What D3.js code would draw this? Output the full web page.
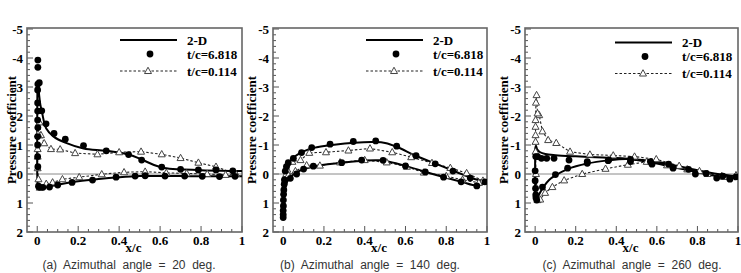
<!DOCTYPE html>
<html><head><meta charset="utf-8">
<script src="https://cdn.jsdelivr.net/npm/d3@7"></script>
<style>
html,body{margin:0;padding:0;background:#fff;}
svg{display:block;}
</style></head>
<body>
<svg id="chart" width="741" height="273"></svg>
<script>
// ---------- data (x/c, Cp) ----------
const xTicks = [0, 0.2, 0.4, 0.6, 0.8, 1];
const xTickLabels = ["0", "0.2", "0.4", "0.6", "0.8", "1"];
const yTicks = [-5, -4, -3, -2, -1, 0, 1, 2];
const legendLabels = ["2-D", "t/c=6.818", "t/c=0.114"];
const captions = ["(a)  Azimuthal  angle  =  20  deg.", "(b)  Azimuthal  angle  =  140  deg.", "(c)  Azimuthal  angle  =  260  deg."];

// Panel (a) 20 deg
const a2D = [[1.0,-0.1],[0.9,-0.11],[0.8,-0.13],[0.7,-0.16],[0.62,-0.21],[0.57,-0.31],[0.51,-0.5],[0.446,-0.67],[0.337,-0.8],[0.226,-0.88],[0.137,-1.08],[0.08,-1.29],[0.044,-1.57],[0.024,-2.1],[0.015,-2.4],[0.009,-2.75],[0.005,-3.05],[0.003,-3.2],[0.001,-2.9],[0.0,-1.5],[0.0,0.0],[0.002,0.35],[0.007,0.46],[0.02,0.47],[0.05,0.44],[0.1,0.37],[0.2,0.25],[0.3,0.17],[0.4,0.11],[0.5,0.07],[0.6,0.07],[0.7,0.07],[0.8,0.08],[0.9,0.08],[1.0,0.08]];
const aDots = [[0.003,-3.93],[0.003,-3.68],[0.003,-3.1],[0.01,-3.15],[0.002,-2.9],[0.002,-2.45],[0.002,-2.17],[0.002,-1.86],[0.003,-1.6],[0.002,-1.29],[0.002,-1.0],[0.002,-0.6],[0.003,-0.25],[0.022,-2.18],[0.043,-1.73],[0.082,-1.4],[0.137,-1.2],[0.226,-0.98],[0.337,-0.8],[0.446,-0.67],[0.51,-0.48],[0.608,-0.24],[0.7,-0.16],[0.787,-0.14],[0.873,-0.14],[0.955,-0.11],[0.006,0.42],[0.012,0.46],[0.028,0.46],[0.06,0.45],[0.1,0.38],[0.17,0.29],[0.27,0.21],[0.385,0.11],[0.478,0.07],[0.527,0.06],[0.624,0.07],[0.72,0.07],[0.806,0.08],[0.89,0.09],[0.966,0.08]];
const aTri = [[0.97,0.0],[0.873,-0.25],[0.787,-0.39],[0.7,-0.55],[0.608,-0.68],[0.507,-0.77],[0.4,-0.75],[0.294,-0.68],[0.185,-0.72],[0.112,-0.85],[0.067,-0.86],[0.034,-1.06],[0.018,-1.34],[0.011,-1.78],[0.004,-1.37],[0.002,-0.86],[0.002,-0.6],[0.002,-0.2],[0.006,0.18],[0.012,0.47],[0.044,0.34],[0.075,0.29],[0.123,0.18],[0.205,0.11],[0.315,0.01],[0.424,-0.06],[0.527,-0.08],[0.63,-0.04],[0.73,-0.02],[0.83,0.0],[0.92,0.03],[0.97,0.0]];

// Panel (b) 140 deg
const b2D = [[1.0,0.28],[0.92,0.13],[0.85,-0.07],[0.75,-0.35],[0.65,-0.63],[0.56,-0.93],[0.5,-1.07],[0.45,-1.1],[0.35,-1.08],[0.25,-1.01],[0.15,-0.9],[0.1,-0.78],[0.06,-0.62],[0.035,-0.45],[0.02,-0.3],[0.01,-0.05],[0.005,0.3],[0.002,0.8],[0.0,1.5],[0.003,1.0],[0.008,0.6],[0.015,0.35],[0.03,0.15],[0.05,0.02],[0.075,-0.09],[0.1,-0.17],[0.15,-0.26],[0.2,-0.32],[0.3,-0.4],[0.4,-0.46],[0.47,-0.47],[0.52,-0.42],[0.6,-0.28],[0.7,-0.07],[0.8,0.13],[0.88,0.28],[0.95,0.4],[1.0,0.28]];
const bDots = [[0.0,1.5],[0.0,1.4],[0.0,1.26],[0.001,1.1],[0.001,0.9],[0.002,0.7],[0.003,0.55],[0.005,0.35],[0.006,0.2],[0.01,-0.1],[0.016,-0.25],[0.025,-0.39],[0.05,-0.54],[0.09,-0.74],[0.14,-0.91],[0.23,-1.03],[0.344,-1.12],[0.454,-1.14],[0.557,-0.96],[0.652,-0.63],[0.746,-0.35],[0.833,-0.1],[0.918,0.14],[0.99,0.27],[0.035,0.15],[0.066,0.0],[0.1,-0.17],[0.148,-0.27],[0.287,-0.39],[0.385,-0.48],[0.49,-0.47],[0.6,-0.28],[0.697,-0.07],[0.787,0.11],[0.873,0.27],[0.95,0.41]];
const bTri = [[0.98,0.23],[0.9,-0.03],[0.82,-0.21],[0.73,-0.38],[0.628,-0.58],[0.535,-0.75],[0.426,-0.88],[0.32,-0.81],[0.21,-0.75],[0.128,-0.73],[0.085,-0.48],[0.045,-0.42],[0.02,-0.15],[0.015,0.0],[0.025,0.05],[0.06,-0.1],[0.115,-0.3],[0.18,-0.29],[0.279,-0.4],[0.4,-0.48],[0.508,-0.4],[0.607,-0.25],[0.69,-0.05],[0.8,0.07],[0.88,0.2],[0.96,0.3]];

// Panel (c) 260 deg
const c2D = [[1.0,0.08],[0.9,0.0],[0.8,-0.13],[0.7,-0.28],[0.6,-0.42],[0.5,-0.5],[0.4,-0.55],[0.3,-0.58],[0.2,-0.61],[0.1,-0.65],[0.05,-0.69],[0.025,-0.75],[0.01,-0.85],[0.004,-0.97],[0.001,-0.9],[0.0,-0.5],[0.0,0.3],[0.002,0.85],[0.008,0.9],[0.02,0.7],[0.044,0.42],[0.07,0.2],[0.1,0.05],[0.16,-0.17],[0.257,-0.36],[0.36,-0.47],[0.45,-0.52],[0.5,-0.48],[0.6,-0.36],[0.7,-0.21],[0.8,-0.06],[0.9,0.08],[1.0,0.1]];
const cDots = [[0.003,-0.6],[0.012,-0.6],[0.031,-0.54],[0.057,-0.54],[0.093,-0.54],[0.167,-0.48],[0.257,-0.43],[0.363,-0.49],[0.47,-0.5],[0.568,-0.43],[0.658,-0.34],[0.756,-0.16],[0.843,-0.02],[0.925,0.07],[0.99,0.1],[0.0,-0.11],[0.0,0.23],[0.002,0.5],[0.003,0.72],[0.008,0.9],[0.004,0.82],[0.036,0.45],[0.1,0.02],[0.16,-0.2],[0.257,-0.37],[0.36,-0.46],[0.47,-0.43],[0.576,-0.34],[0.68,-0.2],[0.79,0.0],[0.895,0.14],[0.96,0.18]];
const cTri = [[0.99,0.05],[0.92,0.07],[0.81,-0.1],[0.71,-0.28],[0.597,-0.51],[0.49,-0.6],[0.385,-0.64],[0.27,-0.67],[0.172,-0.77],[0.104,-1.07],[0.064,-1.17],[0.036,-1.47],[0.02,-2.03],[0.012,-2.09],[0.007,-2.72],[0.004,-2.46],[0.002,-1.86],[0.002,-1.63],[0.002,-1.34],[0.002,-1.11],[0.002,-0.77],[0.004,0.0],[0.012,0.9],[0.025,0.88],[0.049,0.65],[0.085,0.45],[0.143,0.22],[0.232,0.0],[0.347,-0.18],[0.457,-0.32],[0.55,-0.42],[0.65,-0.3],[0.75,-0.16],[0.85,0.0],[0.93,0.1],[0.99,0.05]];

// ---------- layout ----------
const panels = [
  {left: 27,  right: 242, line: a2D, dots: aDots, tri: aTri, cap: captions[0], titleX: 12,  capX: 129, legDx: 0,  legDy: 0},
  {left: 273, right: 487, line: b2D, dots: bDots, tri: bTri, cap: captions[1], titleX: 252, capX: 370, legDx: 0,  legDy: 0},
  {left: 525, right: 738, line: c2D, dots: cDots, tri: cTri, cap: captions[2], titleX: 504, capX: 632, legDx: -3, legDy: 2.5}
];
const TOP = 29, BOTTOM = 232;
const serif = "'Liberation Serif','Times New Roman',serif";
const sans = "'Liberation Sans',Arial,sans-serif";

const svg = d3.select("#chart");

function triPath(cx, cy, s) {
  const h = s * 0.9;
  return `M${cx},${cy - h*0.6}L${cx + s/2},${cy + h*0.4}L${cx - s/2},${cy + h*0.4}Z`;
}

panels.forEach(p => {
  const x = d3.scaleLinear().domain([-0.05, 1]).range([p.left, p.right]);
  const y = d3.scaleLinear().domain([-5, 2]).range([TOP, BOTTOM]);
  const g = svg.append("g");

  // minor ticks
  const xMinor = d3.range(0, 1.0001, 0.05);
  const yMinor = d3.range(-5, 2.0001, 0.2);
  g.selectAll(".xm").data(xMinor).join("line")
    .attr("x1", d => x(d)).attr("x2", d => x(d))
    .attr("y1", BOTTOM).attr("y2", d => BOTTOM - (Math.abs(d*5 - Math.round(d*5)) < 1e-6 ? 6 : 3))
    .attr("stroke", "#555").attr("stroke-width", 1);
  g.selectAll(".ym").data(yMinor).join("line")
    .attr("y1", d => y(d)).attr("y2", d => y(d))
    .attr("x1", p.left).attr("x2", d => p.left + (Math.abs(d - Math.round(d)) < 1e-6 ? 6 : 3))
    .attr("stroke", "#555").attr("stroke-width", 1);

  // zero line
  g.append("line").attr("x1", p.left).attr("x2", p.right)
    .attr("y1", y(0)).attr("y2", y(0)).attr("stroke", "#8a8a8a").attr("stroke-width", 1);

  // frame
  g.append("rect").attr("x", p.left).attr("y", y(-5) - 1)
    .attr("width", p.right - p.left).attr("height", BOTTOM - y(-5) + 1)
    .attr("fill", "none").attr("stroke", "#666").attr("stroke-width", 1.6);

  // tick labels
  g.selectAll(".xl").data(xTicks).join("text")
    .attr("x", d => x(d)).attr("y", 245)
    .attr("text-anchor", "middle")
    .attr("font-family", serif).attr("font-weight", "bold").attr("font-size", 13)
    .text((d, i) => xTickLabels[i]);
  g.selectAll(".yl").data(yTicks).join("text")
    .attr("x", p.left - 4).attr("y", d => y(d) + 4.5)
    .attr("text-anchor", "end")
    .attr("font-family", serif).attr("font-weight", "bold").attr("font-size", 13)
    .text(d => d);

  // axis titles
  g.append("text").attr("x", (p.left + p.right) / 2 - 1).attr("y", 252)
    .attr("text-anchor", "middle").attr("font-family", serif).attr("font-weight", "bold").attr("font-size", 13)
    .text("x/c");
  g.append("text").attr("transform", `translate(${p.titleX + 4},${130}) rotate(-90)`)
    .attr("text-anchor", "middle").attr("font-family", serif).attr("font-weight", "bold").attr("font-size", 13)
    .text("Pressure coefficient");

  // caption
  g.append("text").attr("x", p.capX).attr("y", 269)
    .attr("text-anchor", "middle").attr("font-family", sans).attr("font-size", 12)
    .attr("fill", "#333").attr("xml:space", "preserve").style("white-space", "pre")
    .text(p.cap);

  // series
  const clipId = "clip" + p.left;
  svg.append("clipPath").attr("id", clipId).append("rect")
    .attr("x", p.left).attr("y", y(-5)).attr("width", p.right - p.left).attr("height", BOTTOM - y(-5));
  const plot = g.append("g").attr("clip-path", `url(#${clipId})`);

  plot.append("path").datum(p.tri)
    .attr("d", d3.line().x(d => x(d[0])).y(d => y(d[1])))
    .attr("fill", "none").attr("stroke", "#222").attr("stroke-width", 1.1).attr("stroke-dasharray", "2.5,2");

  plot.append("path").datum(p.line)
    .attr("d", d3.line().x(d => x(d[0])).y(d => y(d[1])).curve(d3.curveCatmullRom.alpha(0.5)))
    .attr("fill", "none").attr("stroke", "#000").attr("stroke-width", 2);

  plot.selectAll(".tri").data(p.tri).join("path")
    .attr("d", d => triPath(x(d[0]), y(d[1]), 7))
    .attr("fill", "#fff").attr("stroke", "#444").attr("stroke-width", 1);

  plot.selectAll(".dot").data(p.dots).join("circle")
    .attr("cx", d => x(d[0])).attr("cy", d => y(d[1])).attr("r", 3.4)
    .attr("fill", "#000");

  // legend
  const lx = p.left + p.legDx, ly = p.legDy;
  g.append("line").attr("x1", lx + 93).attr("x2", lx + 150).attr("y1", 40 + ly).attr("y2", 40 + ly)
    .attr("stroke", "#000").attr("stroke-width", 2);
  g.append("circle").attr("cx", lx + 123).attr("cy", 54 + ly).attr("r", 3.4).attr("fill", "#000");
  g.append("line").attr("x1", lx + 93).attr("x2", lx + 150).attr("y1", 71 + ly).attr("y2", 71 + ly)
    .attr("stroke", "#222").attr("stroke-width", 1.1).attr("stroke-dasharray", "2.5,2");
  g.append("path").attr("d", triPath(lx + 121, 71 + ly, 7)).attr("fill", "#fff").attr("stroke", "#444");
  legendLabels.forEach((t, i) => {
    g.append("text").attr("x", lx + 160).attr("y", [44.5, 58.5, 75.5][i] + ly)
      .attr("font-family", serif).attr("font-weight", "bold").attr("font-size", 13)
      .text(t);
  });
});
</script>
</body></html>
